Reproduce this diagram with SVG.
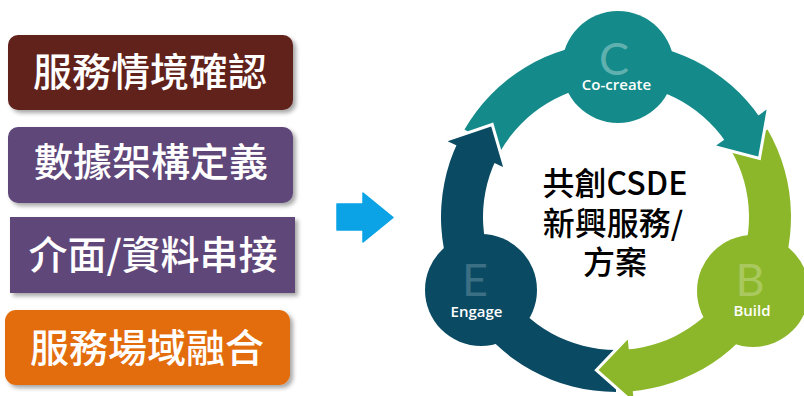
<svg xmlns="http://www.w3.org/2000/svg" width="804" height="396" viewBox="0 0 804 396">
  <defs>
    <filter id="shadow" x="-10%" y="-20%" width="130%" height="160%">
      <feDropShadow dx="3" dy="3" stdDeviation="2" flood-color="#000" flood-opacity="0.35"/>
    </filter>
    <style>
      .box-text { font-family: "Noto Sans CJK TC", "Noto Sans CJK SC", sans-serif; font-size: 39px; font-weight: 500; fill: #ffffff; text-anchor: middle; }
      .center-text { font-family: "Noto Sans CJK TC", "Noto Sans CJK SC", sans-serif; font-size: 32px; font-weight: 500; fill: #000000; text-anchor: middle; }
      .big-letter { font-family: "Lato", "Open Sans", sans-serif; font-size: 45px; font-weight: 400; text-anchor: middle; }
      .step-label { font-family: "Open Sans", "Liberation Sans", sans-serif; font-size: 15px; font-weight: 600; fill: #ffffff; text-anchor: middle; }
      .teal { fill: #148a8a; }
      .navy { fill: #0a4a63; }
      .green { fill: #8cb72a; }
      .gap { fill: none; stroke: #ffffff; stroke-width: 6; stroke-linejoin: miter; }
    </style>
  </defs>
  <rect width="804" height="396" fill="#ffffff"/>

  <g id="box-service-context">
    <rect x="8" y="35" width="285" height="75" rx="10" fill="#62231f" filter="url(#shadow)"/>
    <text class="box-text" x="150" y="86">服務情境確認</text>
  </g>
  <g id="box-data-architecture">
    <rect x="8" y="127" width="285" height="76" rx="10" fill="#5e477a" filter="url(#shadow)"/>
    <text class="box-text" x="151" y="176">數據架構定義</text>
  </g>
  <g id="box-interface-data">
    <rect x="10" y="217" width="285" height="76" fill="#5e477a" filter="url(#shadow)"/>
    <text class="box-text" x="153" y="269">介面/資料串接</text>
  </g>
  <g id="box-service-fusion">
    <rect x="5" y="310" width="285" height="75" rx="11" fill="#e36c0a" filter="url(#shadow)"/>
    <text class="box-text" x="147" y="362">服務場域融合</text>
  </g>

  <g id="connectors">
    <path d="M337,204 H363 V193 L393,217.5 L363,242 V230 H337 Z" fill="#0ba3e6" stroke="#0ba3e6" stroke-width="1.5" stroke-linejoin="round"/>
  </g>

  <g id="cycle">
    <!-- bands -->
    <path class="green" d="M767.55,129.5 A175,175 0 0 1 629.73,391.46 L626.44,349.59 A133,133 0 0 0 731.18,150.5 Z"/>
    <path class="navy" d="M616,392 A175,175 0 0 1 458.05,141.66 L495.96,159.74 A133,133 0 0 0 616,350 Z"/>
    <path class="teal" d="M464.45,129.5 A175,175 0 0 1 760.22,117.88 L725.61,141.67 A133,133 0 0 0 500.82,150.5 Z"/>

    <g id="node-cocreate">
      <circle class="teal" cx="618" cy="67" r="56"/>
      <text class="big-letter" x="614" y="75" fill="#5fb0ae">C</text>
      <text class="step-label" x="616.5" y="90">Co-create</text>
    </g>
    <g id="node-engage">
      <circle class="navy" cx="481" cy="290" r="56"/>
      <text class="big-letter" x="475" y="296" fill="#3a6f84">E</text>
      <text class="step-label" x="476.5" y="317">Engage</text>
    </g>
    <g id="node-build">
      <circle class="green" cx="753" cy="291" r="56"/>
      <text class="big-letter" x="750" y="296" fill="#a9c95f">B</text>
      <text class="step-label" x="752" y="316">Build</text>
    </g>

    <!-- arrowheads -->
    <polyline class="gap" points="633.73,401.15 598.57,370.01 627.79,339.43"/>
    <polygon class="green" points="633.73,401.15 598.57,370.01 627.79,339.43"/>
    <polyline class="gap" points="447.64,141.28 491.21,126.40 503.07,166.99"/>
    <polygon class="navy" points="447.64,141.28 491.21,126.40 503.07,166.99"/>
    <polyline class="gap" points="766.61,109.57 758.23,156.59 716.14,145.57"/>
    <polygon class="teal" points="766.61,109.57 758.23,156.59 716.14,145.57"/>
  </g>

  <g id="center-label">
    <text class="center-text" x="615" y="195">共創CSDE</text>
    <text class="center-text" x="613" y="235">新興服務/</text>
    <text class="center-text" x="615" y="274">方案</text>
  </g>
</svg>
